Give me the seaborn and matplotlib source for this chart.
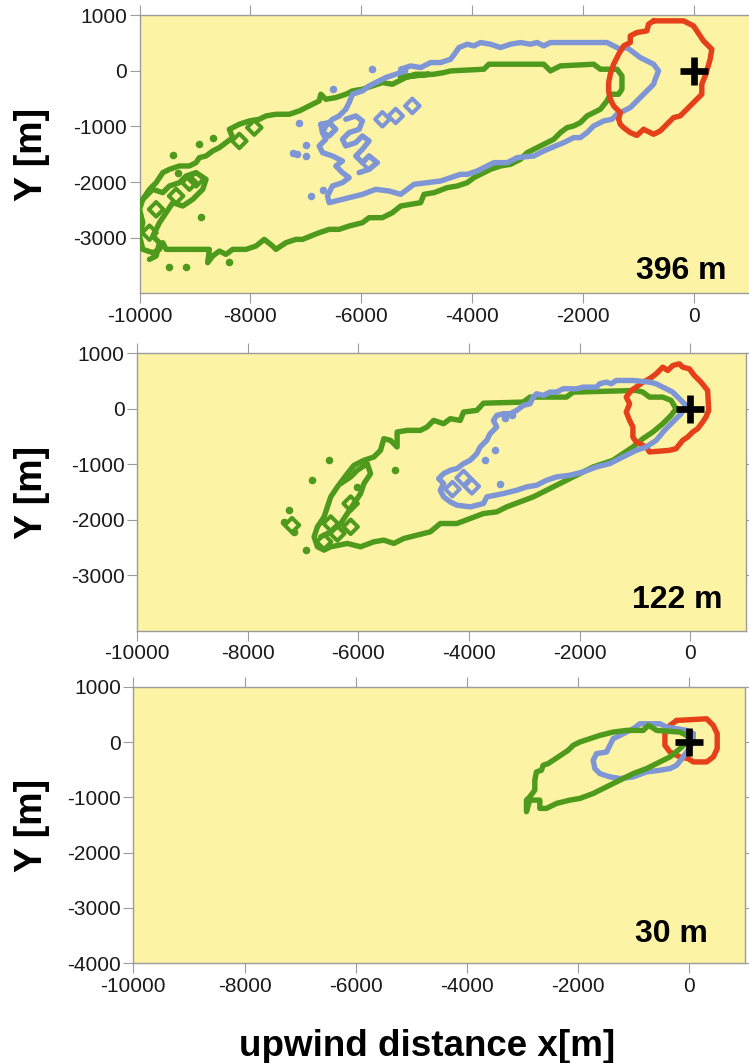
import matplotlib
matplotlib.use("Agg")
import matplotlib.pyplot as plt
import seaborn as sns

sns.set_style("ticks")
plt.rcParams["font.family"] = ["Liberation Sans", "DejaVu Sans"]

# ---------------------------------------------------------------------------
# Footprint contours (x = upwind distance, y = crosswind distance, metres)
# ---------------------------------------------------------------------------
HEIGHT_LABELS = ["396 m", "122 m", "30 m"]
X_TICKS = [-10000, -8000, -6000, -4000, -2000, 0]
Y_TICKS_UPPER = [1000, 0, -1000, -2000, -3000]
Y_TICKS_LOWER = [1000, 0, -1000, -2000, -3000, -4000]

# --- 396 m -----------------------------------------------------------------
P1_RED_X = [-730, -190, -10, 50, 170, 320, 290, 230, 200, 140, 140, 20, -130, -250,
            -370, -490, -610, -730, -910, -1030, -1150, -1270, -1330, -1360, -1330,
            -1450, -1510, -1540, -1540, -1510, -1450, -1360, -1270, -1150, -1150,
            -1030, -850, -820]
P1_RED_Y = [900, 900, 810, 720, 540, 390, 210, 0, -90, -240, -420, -540, -690, -810,
            -840, -960, -1080, -1140, -1050, -1160, -1110, -1020, -960, -870, -750,
            -630, -510, -360, -210, -60, 120, 300, 450, 510, 630, 690, 720, 840]

P1_BLUE_X = [-5290, -5110, -4930, -4750, -4570, -4390, -4300, -4240, -4090, -3970,
             -3850, -3670, -3490, -3310, -3130, -2950, -2830, -2710, -2590, -1570,
             -1450, -1330, -1210, -1090, -970, -850, -730, -640, -700, -730, -820,
             -910, -1030, -1150, -1270, -1390, -1480, -1630, -1810, -1930, -2050,
             -2170, -2350, -2500, -2710, -2890, -3190, -3370, -3610, -3730, -3910,
             -4090, -4210, -4390, -4570, -4810, -5050, -5170, -5290, -5500, -5740,
             -5980, -6220, -6460, -6580, -6610, -6520, -6340, -6220, -6340, -6460,
             -6340, -6520, -6700, -6760, -6640, -6700, -6640, -6520, -6400, -6280,
             -6220, -6160, -5980, -5860, -5740, -5560, -5380, -5200]
P1_BLUE_Y = [30, 90, 60, 150, 150, 210, 330, 420, 480, 450, 510, 480, 420, 480,
             510, 480, 510, 450, 510, 510, 450, 390, 420, 330, 240, 180, 120, 0,
             -150, -240, -330, -420, -540, -660, -720, -780, -870, -900, -990,
             -1110, -1200, -1200, -1290, -1350, -1440, -1530, -1560, -1650, -1650,
             -1710, -1800, -1860, -1860, -1920, -1980, -2010, -2040, -2130, -2220,
             -2160, -2130, -2220, -2280, -2340, -2370, -2250, -2070, -2010, -1920,
             -1830, -1710, -1620, -1530, -1470, -1350, -1230, -1110, -990, -870,
             -810, -690, -570, -420, -360, -270, -210, -120, -60, 0]

P1_BLUE_IN_X = [-6280, -6100, -5980, -6040, -6220, -6340, -6280, -6100, -5980, -5860,
                -5980, -6100, -5980, -5860, -5710, -5860, -6040]
P1_BLUE_IN_Y = [-870, -810, -900, -1050, -1110, -1230, -1350, -1290, -1170, -1260,
                -1410, -1530, -1650, -1530, -1650, -1770, -1830]
P1_BLUE_LOOP_X = [-6730, -6580, -6460, -6580, -6700]
P1_BLUE_LOOP_Y = [-960, -930, -1050, -1170, -1110]

P1_BLUE_DOTS_X = [-7240, -7000, -7000, -6910, -6700, -7120, -6510, -5800, -7160]
P1_BLUE_DOTS_Y = [-1470, -1340, -1530, -2250, -2140, -930, -330, 30, -1500]
P1_BLUE_RINGS_X = [-5080, -5380, -5620, -5860]
P1_BLUE_RINGS_Y = [-630, -810, -870, -1650]

P1_GREEN_X = [-5290, -5170, -4690, -4510, -4390, -3790, -3700, -2710, -2590, -2470,
              -2410, -1810, -1690, -1390, -1300, -1300, -1360, -1510, -1570, -1690,
              -1810, -1930, -2050, -2170, -2290, -2410, -2530, -2650, -2770, -2890,
              -3010, -3130, -3310, -3490, -3670, -3790, -3970, -4090, -4270, -4450,
              -4690, -4870, -4930, -5110, -5290, -5440, -5620, -5860, -5980, -6220,
              -6400, -6580, -6760, -6910, -7060, -7180, -7360, -7540, -7600, -7750,
              -7900, -8080, -8320, -8440, -8560, -8680, -8770, -8740, -9520, -9580,
              -9640, -9760, -9940, -10000, -9940, -10000, -9940, -9820, -9700,
              -9580, -9460, -9280, -9100, -8980, -8920, -8800, -8680, -8560, -8440,
              -8320, -8380, -8200, -8020, -7840, -7720, -7540, -7300, -7120, -7000,
              -6880, -6760, -6730, -6640, -6460, -6280, -6160, -5980, -5800, -5620,
              -5440, -5320, -5200, -5020, -4780]
P1_GREEN_Y = [-120, -90, -60, -30, 0, 30, 120, 120, 0, 60, 90, 120, 30, 30, -90,
              -330, -420, -420, -540, -690, -750, -810, -930, -990, -1020, -1110,
              -1230, -1290, -1350, -1410, -1470, -1590, -1680, -1710, -1770, -1830,
              -1920, -2010, -2070, -2100, -2190, -2220, -2370, -2400, -2430, -2550,
              -2640, -2640, -2730, -2790, -2850, -2850, -2910, -2970, -3030, -3030,
              -3090, -3210, -3150, -3030, -3150, -3210, -3210, -3300, -3240, -3330,
              -3450, -3210, -3210, -3090, -3210, -3270, -3210, -2970, -2730, -2490,
              -2310, -2130, -2010, -1830, -1770, -1710, -1710, -1650, -1560, -1530,
              -1440, -1380, -1290, -1200, -1050, -960, -900, -870, -810, -780, -780,
              -720, -660, -600, -540, -420, -510, -480, -420, -360, -330, -270, -210,
              -240, -180, -120, -60, -60]

P1_GREEN_IN_X = [-9940, -9760, -9580, -9460, -9280, -9160, -8980, -8800, -8860, -9040,
                 -9220, -9400, -9520, -9640, -9760, -9640, -9700, -9820]
P1_GREEN_IN_Y = [-2310, -2130, -2190, -2070, -2010, -1890, -1830, -1950, -2130, -2310,
                 -2430, -2370, -2550, -2730, -2970, -3090, -3330, -3390]

P1_GREEN_DOTS_X = [-9400, -8890, -9470, -9170, -8380, -8680, -8920, -9310]
P1_GREEN_DOTS_Y = [-1510, -2620, -3530, -3530, -3430, -1200, -1320, -1830]
P1_GREEN_RINGS_X = [-9100, -8200, -7930, -9820, -9700, -9340, -8980]
P1_GREEN_RINGS_Y = [-2010, -1260, -1020, -2910, -2490, -2250, -1950]

# --- 122 m -----------------------------------------------------------------
P2_RED_X = [-740, -620, -500, -410, -320, -200, -140, -20, 70, 190, 310, 330, 280,
            220, 130, 40, -50, -140, -260, -380, -740, -800, -980, -1040, -1040,
            -1100, -1160, -1100, -1160, -1070, -980, -860]
P2_RED_Y = [540, 630, 750, 690, 780, 810, 750, 720, 600, 480, 330, -30, -150, -240,
            -360, -420, -510, -570, -720, -750, -780, -690, -600, -510, -330, -210,
            -60, 90, 210, 330, 390, 480]

P2_BLUE_X = [-80, -200, -320, -500, -620, -740, -1040, -1340, -1430, -1520, -1640,
             -1700, -1940, -2060, -2300, -2420, -2540, -2660, -2780, -2840, -2900,
             -3020, -3140, -3260, -3380, -3500, -3560, -3500, -3620, -3680, -3800,
             -3860, -3980, -4100, -4220, -4340, -4460, -4550, -4460, -4520, -4460,
             -4340, -4220, -3980, -3740, -3680, -3380, -3140, -2960, -2780, -2600,
             -2420, -2180, -1940, -1700, -1460, -1280, -1100, -980, -800, -620,
             -470, -320, -170]
P2_BLUE_Y = [60, 180, 300, 390, 450, 480, 510, 510, 450, 480, 450, 390, 390, 360,
             360, 300, 300, 240, 270, 210, 90, 60, -30, -90, -90, -120, -210, -330,
             -450, -570, -690, -810, -930, -990, -1080, -1110, -1170, -1260, -1350,
             -1470, -1590, -1680, -1740, -1770, -1710, -1590, -1530, -1470, -1410,
             -1380, -1290, -1230, -1200, -1140, -1050, -990, -900, -810, -750, -690,
             -570, -390, -240, -90]
P2_BLUE_DOTS_X = [-3440, -3530, -3710, -3230, -3350]
P2_BLUE_DOTS_Y = [-1350, -740, -930, -120, -170]
P2_BLUE_RINGS_X = [-3950, -4300, -4100]
P2_BLUE_RINGS_Y = [-1400, -1450, -1250]

P2_GREEN_X = [-260, -350, -500, -740, -860, -980, -2120, -2240, -2900, -3020, -3740,
              -3860, -4100, -4160, -4340, -4460, -4640, -4760, -4880, -5120, -5300,
              -5300, -5420, -5540, -5600, -5720, -5900, -6080, -6200, -6380, -6500,
              -6560, -6620, -6740, -6800, -6740, -6620, -6500, -6200, -5960, -5720,
              -5540, -5360, -5180, -4940, -4700, -4520, -4220, -3980, -3740, -3500,
              -3320, -3080, -2840, -2660, -2480, -2300, -2120, -1940, -1760, -1580,
              -1400, -1220, -1040, -860, -680, -500, -350]
P2_GREEN_Y = [0, 150, 210, 210, 300, 330, 300, 210, 210, 120, 100, -30, -60, -210,
              -180, -270, -210, -330, -390, -390, -420, -690, -570, -540, -750, -870,
              -930, -1020, -1170, -1410, -1590, -1770, -1950, -2130, -2310, -2490,
              -2550, -2490, -2430, -2490, -2400, -2370, -2430, -2340, -2280, -2220,
              -2070, -2070, -1980, -1890, -1860, -1770, -1680, -1590, -1500, -1410,
              -1320, -1230, -1140, -1050, -990, -930, -810, -690, -540, -420, -270,
              -120]
P2_GREEN_IN_X = [-6320, -6140, -6020, -5840, -5780, -5900, -5960, -6080, -6200,
                 -6320, -6500, -6680]
P2_GREEN_IN_Y = [-1350, -1230, -1110, -990, -1170, -1350, -1530, -1710, -1890,
                 -2070, -2220, -2310]
P2_GREEN_DOTS_X = [-6530, -6830, -7250, -5330, -6020, -6950, -7340, -7160]
P2_GREEN_DOTS_Y = [-930, -1290, -1830, -1110, -1410, -2550, -2040, -2220]
P2_GREEN_RINGS_X = [-6140, -6500, -6140, -6380, -6620, -7200]
P2_GREEN_RINGS_Y = [-1710, -2070, -2130, -2250, -2400, -2100]

# --- 30 m ------------------------------------------------------------------
P3_RED_X = [-230, 310, 430, 500, 500, 430, 310, 70, -20, -170, -350, -440, -440, -350]
P3_RED_Y = [390, 420, 300, 150, -120, -270, -360, -360, -300, -270, -180, -60, 150, 300]

P3_BLUE_X = [70, -50, -410, -530, -890, -1010, -1190, -1370, -1430, -1490, -1670,
             -1730, -1700, -1610, -1430, -1250, -1010, -770, -530, -350, -230, -110,
             10, 70]
P3_BLUE_Y = [150, 210, 270, 330, 330, 240, 150, 60, -60, -180, -210, -330, -480,
             -570, -630, -660, -630, -540, -510, -480, -420, -270, -90, 30]

P3_GREEN_X = [-50, -170, -590, -680, -740, -830, -1130, -1370, -1490, -1610, -1790,
              -1970, -2090, -2180, -2270, -2450, -2540, -2630, -2660, -2750, -2780,
              -2780, -2870, -2930, -2930, -2870, -2690, -2690, -2570, -2390, -2150,
              -1970, -1730, -1490, -1250, -1010, -770, -530, -350, -170, -50, 10]
P3_GREEN_Y = [120, 180, 210, 270, 300, 210, 210, 180, 150, 120, 60, 0, -60, -150,
              -210, -330, -390, -420, -510, -540, -690, -870, -990, -1050, -1260,
              -1050, -1050, -1200, -1200, -1110, -1050, -1020, -930, -810, -690,
              -570, -480, -360, -270, -120, 0, 90]

# ---------------------------------------------------------------------------
# Styling
# ---------------------------------------------------------------------------
RED = "#E5401A"
BLUE = "#7F96D6"
GREEN = "#4E9A1C"
FACE = "#FDF3A5"
SPINE = "#9C9C9C"
LW = 3.9

W, H = 749, 1063
fig = plt.figure(figsize=(W / 100, H / 100), dpi=100)


def axes_at(left, top, right, bottom):
    return fig.add_axes([left / W, 1 - bottom / H, (right - left) / W, (bottom - top) / H])


def path(ax, xs, ys, color, closed=True):
    x = list(xs)
    y = list(ys)
    if closed:
        x.append(x[0])
        y.append(y[0])
    sns.lineplot(x=x, y=y, sort=False, estimator=None, color=color, lw=LW, ax=ax,
                 solid_joinstyle="round", solid_capstyle="round", zorder=3)


def dots(ax, xs, ys, color):
    sns.scatterplot(x=xs, y=ys, color=color, s=30, linewidth=0, ax=ax, zorder=3)


def rings(ax, xs, ys, color):
    sns.scatterplot(x=xs, y=ys, marker="D", s=55, facecolor="none", edgecolor=color,
                    linewidth=2.9, ax=ax, zorder=3)


def style(ax, yticks, label, label_xy):
    ax.set_facecolor(FACE)
    ax.set_xlim(-10000, 1000)
    ax.set_ylim(-4000, 1000)
    ax.set_xticks(X_TICKS)
    ax.set_yticks(yticks)
    ax.set_xticklabels([str(v) for v in X_TICKS])
    ax.set_yticklabels([str(v) for v in yticks])
    ax.tick_params(axis="both", which="both", direction="out", length=7.5, width=0.8,
                   color=SPINE, labelsize=15, labelcolor="#1a1a1a",
                   top=True, right=True, labeltop=False, labelright=False)
    ax.tick_params(axis="x", pad=2.5)
    ax.tick_params(axis="y", pad=1.5)
    for s in ax.spines.values():
        s.set_color(SPINE)
        s.set_linewidth(1.0)
    ax.set_xlabel("")
    ax.set_ylabel("")
    ax.plot([0], [0], marker="+", color="black", markersize=20, mew=4.8, zorder=5)
    fig.text(label_xy[0] / W, 1 - label_xy[1] / H, label, ha="right", va="center",
             fontsize=23, fontweight="bold", color="black")


# 396 m panel
ax1 = axes_at(139.5, 15.3, 749.5, 293.3)
path(ax1, P1_GREEN_X, P1_GREEN_Y, GREEN)
path(ax1, P1_GREEN_IN_X, P1_GREEN_IN_Y, GREEN, closed=False)
dots(ax1, P1_GREEN_DOTS_X, P1_GREEN_DOTS_Y, GREEN)
rings(ax1, P1_GREEN_RINGS_X, P1_GREEN_RINGS_Y, GREEN)
path(ax1, P1_BLUE_X, P1_BLUE_Y, BLUE)
path(ax1, P1_BLUE_IN_X, P1_BLUE_IN_Y, BLUE, closed=False)
path(ax1, P1_BLUE_LOOP_X, P1_BLUE_LOOP_Y, BLUE)
dots(ax1, P1_BLUE_DOTS_X, P1_BLUE_DOTS_Y, BLUE)
rings(ax1, P1_BLUE_RINGS_X, P1_BLUE_RINGS_Y, BLUE)
path(ax1, P1_RED_X, P1_RED_Y, RED)
style(ax1, Y_TICKS_UPPER, HEIGHT_LABELS[0], (727, 271))

# 122 m panel
ax2 = axes_at(137, 353.3, 745.8, 630.5)
path(ax2, P2_GREEN_X, P2_GREEN_Y, GREEN)
path(ax2, P2_GREEN_IN_X, P2_GREEN_IN_Y, GREEN, closed=False)
dots(ax2, P2_GREEN_DOTS_X, P2_GREEN_DOTS_Y, GREEN)
rings(ax2, P2_GREEN_RINGS_X, P2_GREEN_RINGS_Y, GREEN)
path(ax2, P2_RED_X, P2_RED_Y, RED)
path(ax2, P2_BLUE_X, P2_BLUE_Y, BLUE)
dots(ax2, P2_BLUE_DOTS_X, P2_BLUE_DOTS_Y, BLUE)
rings(ax2, P2_BLUE_RINGS_X, P2_BLUE_RINGS_Y, BLUE)
style(ax2, Y_TICKS_UPPER, HEIGHT_LABELS[1], (722, 600))

# 30 m panel
ax3 = axes_at(133.3, 686.7, 745, 963.3)
path(ax3, P3_RED_X, P3_RED_Y, RED)
path(ax3, P3_BLUE_X, P3_BLUE_Y, BLUE)
path(ax3, P3_GREEN_X, P3_GREEN_Y, GREEN)
style(ax3, Y_TICKS_LOWER, HEIGHT_LABELS[2], (708, 933.5))

for cy in (154, 492, 825):
    fig.text(32 / W, 1 - cy / H, "Y [m]", rotation=90, ha="center", va="center",
             fontsize=27, fontweight="bold", color="black")

fig.text(427 / W, 1 - 1047 / H, "upwind distance x[m]", ha="center", va="center",
         fontsize=26.5, fontweight="bold", color="black")

fig.savefig("out.png", dpi=100)
